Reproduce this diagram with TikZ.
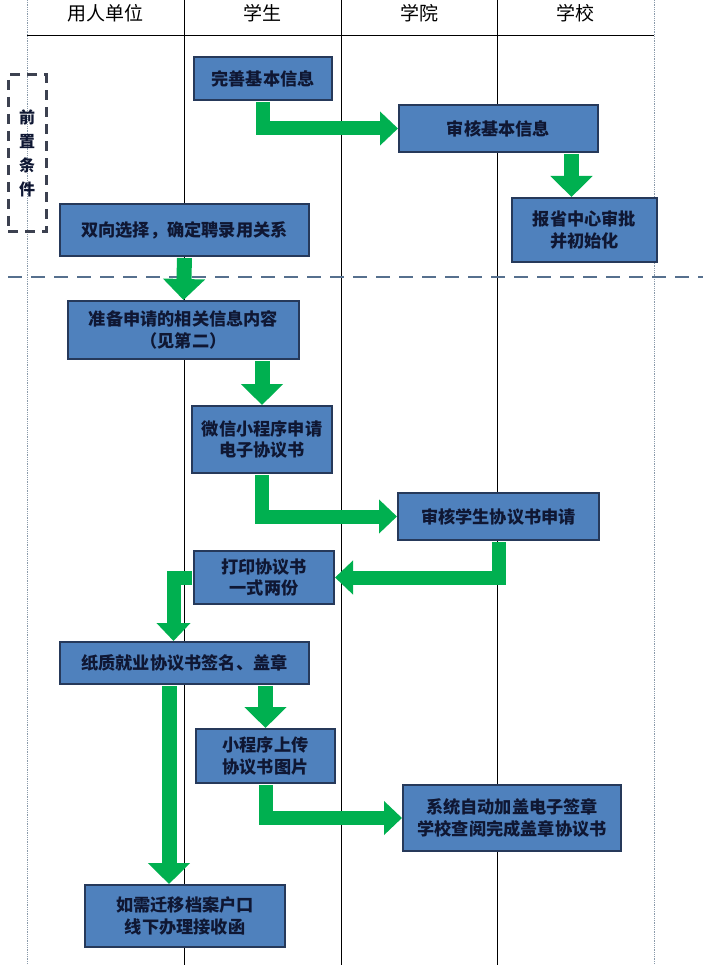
\documentclass[tikz,border=0pt]{standalone}
\usepackage{fontspec}
\setmainfont{Noto Sans CJK SC}
\usetikzlibrary{arrows.meta}
\definecolor{boxblue}{HTML}{4F81BD}
\definecolor{boxline}{HTML}{26395A}
\definecolor{boxtext}{HTML}{0F1733}
\definecolor{flowgreen}{HTML}{00B050}
\definecolor{splitline}{HTML}{56708E}
\definecolor{preline}{HTML}{3C4150}
\definecolor{borderdot}{HTML}{8A9AAA}

\begin{document}
\begin{tikzpicture}[x=1pt,y=-1pt]
\tikzstyle{every node}+=[inner sep=0pt]
\tikzstyle{box}=[draw=boxline, line width=2pt, fill=boxblue, text=boxtext, align=center, font=\fontsize{17.2}{21.5}\selectfont\bfseries]
\tikzstyle{lanehead}=[font=\fontsize{19}{21}\selectfont, text=black]
\tikzstyle{flowdown}=[draw=flowgreen, line width=15pt, line join=miter, shorten <=1pt, -{Triangle[length=21pt,width=41pt]}]
\tikzstyle{flowside}=[draw=flowgreen, line width=14pt, line join=miter, shorten <=1pt, -{Triangle[length=18pt,width=33pt]}]
\useasboundingbox (0,0) rectangle (703,965);
\fill [white] (0,0) rectangle (703,965);
% swim lanes
\draw [borderdot, densely dotted, line width=0.8pt] (27,0) -- (27,965);
\draw [borderdot, densely dotted, line width=0.8pt] (654,0) -- (654,965);
\draw [black, line width=1pt] (27,36) -- (654,36);
\draw [black, line width=1pt] (184,0) -- (184,965);
\draw [black, line width=1pt] (341,0) -- (341,965);
\draw [black, line width=1pt] (497,0) -- (497,965);
\node [lanehead] (lane1) at (105.5,13) {用人单位};
\node [lanehead] (lane2) at (262.5,13) {学生};
\node [lanehead] (lane3) at (419,13) {学院};
\node [lanehead] (lane4) at (575.5,13) {学校};
% preconditions
\node [draw=preline, line width=3pt, dash pattern=on 10pt off 7pt, minimum width=38pt, minimum height=157pt, align=center, text=boxtext, font=\fontsize{16}{24}\selectfont\bfseries] (pre) at (27,153.5) {前\\置\\条\\件};
\draw [splitline, line width=2.5pt, dash pattern=on 14pt off 9pt] (8,277) -- (703,277);
% steps
\node [box, minimum width=138pt, minimum height=43pt] (b1) at (263,78.5) {完善基本信息};
\node [box, minimum width=199pt, minimum height=47pt] (b2) at (498.5,128.5) {审核基本信息};
\node [box, minimum width=145pt, minimum height=64pt] (b3) at (584.5,230) {报省中心审批\\并初始化};
\node [box, minimum width=249pt, minimum height=52pt] (b4) at (184.5,230) {双向选择，确定聘录用关系};
\node [box, minimum width=231pt, minimum height=58pt] (b5) at (183.5,330) {准备申请的相关信息内容\\（见第二）};
\node [box, minimum width=140pt, minimum height=67pt] (b6) at (262,439.5) {微信小程序申请\\电子协议书};
\node [box, minimum width=201pt, minimum height=47pt] (b7) at (498.5,516.5) {审核学生协议书申请};
\node [box, minimum width=140pt, minimum height=53pt] (b8) at (264,577.5) {打印协议书\\一式两份};
\node [box, minimum width=249pt, minimum height=42pt] (b9) at (184.5,663) {纸质就业协议书签名、盖章};
\node [box, minimum width=139pt, minimum height=54pt] (b10) at (265.5,756) {小程序上传\\协议书图片};
\node [box, minimum width=218pt, minimum height=66pt] (b11) at (512,818) {系统自动加盖电子签章\\学校查阅完成盖章协议书};
\node [box, minimum width=200pt, minimum height=62pt] (b12) at (185,916) {如需迁移档案户口\\线下办理接收函};
\coordinate (b3in) at ([xshift=-13pt]b3.north);
\coordinate (b9in) at ([xshift=-11pt]b9.north);
\coordinate (b12in) at ([xshift=-16pt]b12.north);
% flow arrows
\draw [flowside] (b1.south) |- (b2.west);
\draw [flowdown] (b2.south -| b3in) -- (b3in);
\draw [flowdown] (b4.south) -- (b5.north);
\draw [flowdown] (b5.south -| b6.north) -- (b6.north);
\draw [flowside] (b6.south) |- (b7.west);
\draw [flowside] (b7.south) |- (b8.east);
\draw [flowside] (b8.west) -| (b9in);
\draw [flowdown] (b9.south -| b10.north) -- (b10.north);
\draw [flowdown] (b9.south -| b12in) -- (b12in);
\draw [flowside] (b10.south) |- (b11.west);
\end{tikzpicture}
\end{document}
